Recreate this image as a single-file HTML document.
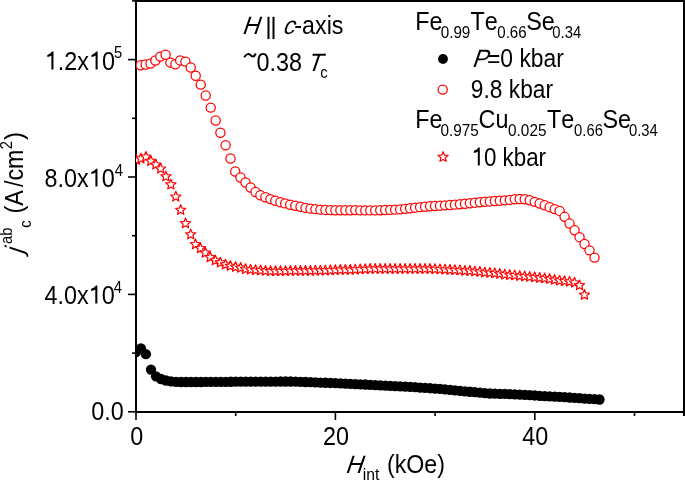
<!DOCTYPE html>
<html><head><meta charset="utf-8"><style>
html,body{margin:0;padding:0;background:#fff;width:685px;height:481px;overflow:hidden;}
svg{display:block;font-family:"Liberation Sans", sans-serif;}
text{font-kerning:none;font-feature-settings:"kern" 0;}
</style></head><body>
<svg width="685" height="481" viewBox="0 0 685 481">
<rect width="685" height="481" fill="#fff"/>
<g><rect x="135" y="0" width="2" height="413" fill="#000"/><rect x="135" y="411" width="550" height="2" fill="#000"/><rect x="135" y="0" width="550" height="2" fill="#000"/><rect x="683" y="0" width="2" height="413" fill="#000"/><line x1="128" y1="411.80" x2="136" y2="411.80" stroke="#000" stroke-width="1.6"/><line x1="128" y1="294.40" x2="136" y2="294.40" stroke="#000" stroke-width="1.6"/><line x1="128" y1="177.00" x2="136" y2="177.00" stroke="#000" stroke-width="1.6"/><line x1="128" y1="59.60" x2="136" y2="59.60" stroke="#000" stroke-width="1.6"/><line x1="132" y1="353.10" x2="136" y2="353.10" stroke="#000" stroke-width="1.6"/><line x1="132" y1="235.70" x2="136" y2="235.70" stroke="#000" stroke-width="1.6"/><line x1="132" y1="118.30" x2="136" y2="118.30" stroke="#000" stroke-width="1.6"/><line x1="132" y1="0.90" x2="136" y2="0.90" stroke="#000" stroke-width="1.6"/><line x1="136.00" y1="412" x2="136.00" y2="420" stroke="#000" stroke-width="1.6"/><line x1="335.40" y1="412" x2="335.40" y2="420" stroke="#000" stroke-width="1.6"/><line x1="534.80" y1="412" x2="534.80" y2="420" stroke="#000" stroke-width="1.6"/><line x1="235.70" y1="412" x2="235.70" y2="416" stroke="#000" stroke-width="1.6"/><line x1="435.10" y1="412" x2="435.10" y2="416" stroke="#000" stroke-width="1.6"/><line x1="634.50" y1="412" x2="634.50" y2="416" stroke="#000" stroke-width="1.6"/><rect x="683" y="411" width="2" height="5" fill="#000"/></g>
<clipPath id="cp"><rect x="136" y="1" width="547" height="411"/></clipPath>
<g clip-path="url(#cp)"><g fill="#000"><circle cx="136.00" cy="352.00" r="5.15"/><circle cx="140.90" cy="348.30" r="5.15"/><circle cx="145.90" cy="354.20" r="5.15"/><circle cx="151.00" cy="369.60" r="5.15"/><circle cx="156.00" cy="376.30" r="5.15"/><circle cx="161.00" cy="379.00" r="5.15"/><circle cx="166.00" cy="380.50" r="5.15"/><circle cx="171.00" cy="381.40" r="5.15"/><circle cx="176.00" cy="381.80" r="5.15"/><circle cx="181.00" cy="382.00" r="5.15"/><circle cx="185.98" cy="382.00" r="5.15"/><circle cx="190.96" cy="382.00" r="5.15"/><circle cx="195.95" cy="382.00" r="5.15"/><circle cx="200.93" cy="381.99" r="5.15"/><circle cx="205.91" cy="381.95" r="5.15"/><circle cx="210.89" cy="381.91" r="5.15"/><circle cx="215.88" cy="381.87" r="5.15"/><circle cx="220.86" cy="381.83" r="5.15"/><circle cx="225.84" cy="381.79" r="5.15"/><circle cx="230.82" cy="381.75" r="5.15"/><circle cx="235.80" cy="381.71" r="5.15"/><circle cx="240.79" cy="381.67" r="5.15"/><circle cx="245.77" cy="381.63" r="5.15"/><circle cx="250.75" cy="381.60" r="5.15"/><circle cx="255.73" cy="381.59" r="5.15"/><circle cx="260.71" cy="381.57" r="5.15"/><circle cx="265.70" cy="381.56" r="5.15"/><circle cx="270.68" cy="381.55" r="5.15"/><circle cx="275.66" cy="381.54" r="5.15"/><circle cx="280.64" cy="381.52" r="5.15"/><circle cx="285.62" cy="381.51" r="5.15"/><circle cx="290.61" cy="381.52" r="5.15"/><circle cx="295.59" cy="381.68" r="5.15"/><circle cx="300.57" cy="381.84" r="5.15"/><circle cx="305.55" cy="382.00" r="5.15"/><circle cx="310.54" cy="382.16" r="5.15"/><circle cx="315.52" cy="382.32" r="5.15"/><circle cx="320.50" cy="382.54" r="5.15"/><circle cx="325.48" cy="382.76" r="5.15"/><circle cx="330.46" cy="382.98" r="5.15"/><circle cx="335.45" cy="383.20" r="5.15"/><circle cx="340.43" cy="383.42" r="5.15"/><circle cx="345.41" cy="383.64" r="5.15"/><circle cx="350.39" cy="383.86" r="5.15"/><circle cx="355.38" cy="384.08" r="5.15"/><circle cx="360.36" cy="384.30" r="5.15"/><circle cx="365.34" cy="384.52" r="5.15"/><circle cx="370.32" cy="384.78" r="5.15"/><circle cx="375.30" cy="385.04" r="5.15"/><circle cx="380.29" cy="385.29" r="5.15"/><circle cx="385.27" cy="385.55" r="5.15"/><circle cx="390.25" cy="385.81" r="5.15"/><circle cx="395.23" cy="386.09" r="5.15"/><circle cx="400.21" cy="386.37" r="5.15"/><circle cx="405.20" cy="386.65" r="5.15"/><circle cx="410.18" cy="386.93" r="5.15"/><circle cx="415.16" cy="387.21" r="5.15"/><circle cx="420.14" cy="387.55" r="5.15"/><circle cx="425.12" cy="387.89" r="5.15"/><circle cx="430.11" cy="388.23" r="5.15"/><circle cx="435.09" cy="388.57" r="5.15"/><circle cx="440.07" cy="388.91" r="5.15"/><circle cx="445.05" cy="389.39" r="5.15"/><circle cx="450.04" cy="389.86" r="5.15"/><circle cx="455.02" cy="390.34" r="5.15"/><circle cx="460.00" cy="390.82" r="5.15"/><circle cx="464.98" cy="391.30" r="5.15"/><circle cx="469.96" cy="391.74" r="5.15"/><circle cx="474.95" cy="392.18" r="5.15"/><circle cx="479.93" cy="392.61" r="5.15"/><circle cx="484.91" cy="393.05" r="5.15"/><circle cx="489.89" cy="393.49" r="5.15"/><circle cx="494.88" cy="393.66" r="5.15"/><circle cx="499.86" cy="393.82" r="5.15"/><circle cx="504.84" cy="393.97" r="5.15"/><circle cx="509.82" cy="394.13" r="5.15"/><circle cx="514.80" cy="394.29" r="5.15"/><circle cx="519.79" cy="394.59" r="5.15"/><circle cx="524.77" cy="394.89" r="5.15"/><circle cx="529.75" cy="395.19" r="5.15"/><circle cx="534.73" cy="395.48" r="5.15"/><circle cx="539.71" cy="395.78" r="5.15"/><circle cx="544.70" cy="396.06" r="5.15"/><circle cx="549.68" cy="396.34" r="5.15"/><circle cx="554.66" cy="396.62" r="5.15"/><circle cx="559.64" cy="396.90" r="5.15"/><circle cx="564.62" cy="397.18" r="5.15"/><circle cx="569.61" cy="397.51" r="5.15"/><circle cx="574.59" cy="397.85" r="5.15"/><circle cx="579.57" cy="398.19" r="5.15"/><circle cx="584.55" cy="398.53" r="5.15"/><circle cx="589.54" cy="398.87" r="5.15"/><circle cx="594.52" cy="399.19" r="5.15"/><circle cx="599.50" cy="399.50" r="5.15"/></g><g fill="#fff" stroke="#f00" stroke-width="1.25"><circle cx="140.60" cy="65.30" r="4.6"/><circle cx="145.60" cy="64.50" r="4.6"/><circle cx="150.50" cy="63.50" r="4.6"/><circle cx="155.40" cy="60.50" r="4.6"/><circle cx="160.30" cy="56.60" r="4.6"/><circle cx="165.60" cy="54.70" r="4.6"/><circle cx="170.40" cy="62.60" r="4.6"/><circle cx="175.40" cy="64.20" r="4.6"/><circle cx="180.20" cy="60.40" r="4.6"/><circle cx="185.40" cy="61.60" r="4.6"/><circle cx="190.70" cy="67.50" r="4.6"/><circle cx="195.70" cy="75.80" r="4.6"/><circle cx="200.70" cy="84.60" r="4.6"/><circle cx="205.70" cy="95.50" r="4.6"/><circle cx="210.70" cy="107.60" r="4.6"/><circle cx="215.60" cy="120.50" r="4.6"/><circle cx="220.40" cy="132.80" r="4.6"/><circle cx="225.60" cy="145.30" r="4.6"/><circle cx="230.50" cy="158.50" r="4.6"/><circle cx="235.20" cy="171.50" r="4.6"/><circle cx="240.50" cy="177.50" r="4.6"/><circle cx="245.50" cy="182.50" r="4.6"/><circle cx="250.60" cy="187.50" r="4.6"/><circle cx="255.50" cy="192.00" r="4.6"/><circle cx="260.40" cy="195.20" r="4.6"/><circle cx="265.40" cy="197.20" r="4.6"/><circle cx="270.40" cy="199.10" r="4.6"/><circle cx="275.30" cy="200.70" r="4.6"/><circle cx="280.40" cy="202.20" r="4.6"/><circle cx="285.20" cy="203.40" r="4.6"/><circle cx="290.20" cy="204.70" r="4.6"/><circle cx="295.30" cy="205.70" r="4.6"/><circle cx="300.50" cy="206.80" r="4.6"/><circle cx="305.48" cy="207.88" r="4.6"/><circle cx="310.47" cy="208.65" r="4.6"/><circle cx="315.45" cy="209.14" r="4.6"/><circle cx="320.43" cy="209.63" r="4.6"/><circle cx="325.42" cy="209.92" r="4.6"/><circle cx="330.40" cy="210.12" r="4.6"/><circle cx="335.38" cy="210.30" r="4.6"/><circle cx="340.36" cy="210.30" r="4.6"/><circle cx="345.35" cy="210.30" r="4.6"/><circle cx="350.33" cy="210.29" r="4.6"/><circle cx="355.31" cy="210.12" r="4.6"/><circle cx="360.30" cy="210.40" r="4.6"/><circle cx="365.28" cy="210.40" r="4.6"/><circle cx="370.26" cy="210.40" r="4.6"/><circle cx="375.25" cy="210.39" r="4.6"/><circle cx="380.23" cy="210.19" r="4.6"/><circle cx="385.21" cy="210.04" r="4.6"/><circle cx="390.19" cy="209.89" r="4.6"/><circle cx="395.18" cy="209.64" r="4.6"/><circle cx="400.16" cy="209.38" r="4.6"/><circle cx="405.14" cy="208.85" r="4.6"/><circle cx="410.13" cy="208.25" r="4.6"/><circle cx="415.11" cy="207.67" r="4.6"/><circle cx="420.09" cy="207.14" r="4.6"/><circle cx="425.08" cy="206.71" r="4.6"/><circle cx="430.06" cy="206.28" r="4.6"/><circle cx="435.04" cy="205.97" r="4.6"/><circle cx="440.03" cy="205.68" r="4.6"/><circle cx="445.01" cy="205.37" r="4.6"/><circle cx="449.99" cy="205.03" r="4.6"/><circle cx="454.97" cy="204.65" r="4.6"/><circle cx="459.96" cy="204.22" r="4.6"/><circle cx="464.94" cy="203.74" r="4.6"/><circle cx="469.92" cy="203.20" r="4.6"/><circle cx="474.91" cy="202.66" r="4.6"/><circle cx="479.89" cy="202.22" r="4.6"/><circle cx="484.87" cy="201.80" r="4.6"/><circle cx="489.86" cy="201.41" r="4.6"/><circle cx="494.84" cy="201.03" r="4.6"/><circle cx="499.82" cy="200.68" r="4.6"/><circle cx="504.81" cy="200.35" r="4.6"/><circle cx="509.79" cy="199.88" r="4.6"/><circle cx="514.77" cy="199.34" r="4.6"/><circle cx="519.75" cy="199.00" r="4.6"/><circle cx="524.74" cy="199.21" r="4.6"/><circle cx="529.72" cy="200.21" r="4.6"/><circle cx="534.70" cy="201.87" r="4.6"/><circle cx="539.69" cy="203.53" r="4.6"/><circle cx="544.67" cy="205.26" r="4.6"/><circle cx="549.65" cy="207.18" r="4.6"/><circle cx="554.64" cy="209.12" r="4.6"/><circle cx="559.62" cy="210.93" r="4.6"/><circle cx="564.60" cy="216.84" r="4.6"/><circle cx="569.58" cy="223.58" r="4.6"/><circle cx="574.57" cy="230.19" r="4.6"/><circle cx="579.55" cy="237.17" r="4.6"/><circle cx="584.53" cy="244.02" r="4.6"/><circle cx="589.52" cy="250.37" r="4.6"/><circle cx="594.50" cy="257.60" r="4.6"/></g><g fill="#fff" stroke="#f00" stroke-width="1.2" stroke-linejoin="round"><path d="M136.50,154.65 L137.92,158.05 L141.59,158.35 L138.79,160.74 L139.64,164.33 L136.50,162.41 L133.36,164.33 L134.21,160.74 L131.41,158.35 L135.08,158.05Z"/><path d="M140.90,153.25 L142.32,156.65 L145.99,156.95 L143.19,159.34 L144.04,162.93 L140.90,161.01 L137.76,162.93 L138.61,159.34 L135.81,156.95 L139.48,156.65Z"/><path d="M145.90,151.55 L147.32,154.95 L150.99,155.25 L148.19,157.64 L149.04,161.23 L145.90,159.31 L142.76,161.23 L143.61,157.64 L140.81,155.25 L144.48,154.95Z"/><path d="M150.80,155.65 L152.22,159.05 L155.89,159.35 L153.09,161.74 L153.94,165.33 L150.80,163.41 L147.66,165.33 L148.51,161.74 L145.71,159.35 L149.38,159.05Z"/><path d="M155.80,159.35 L157.22,162.75 L160.89,163.05 L158.09,165.44 L158.94,169.03 L155.80,167.11 L152.66,169.03 L153.51,165.44 L150.71,163.05 L154.38,162.75Z"/><path d="M160.60,163.35 L162.02,166.75 L165.69,167.05 L162.89,169.44 L163.74,173.03 L160.60,171.11 L157.46,173.03 L158.31,169.44 L155.51,167.05 L159.18,166.75Z"/><path d="M165.90,171.15 L167.32,174.55 L170.99,174.85 L168.19,177.24 L169.04,180.83 L165.90,178.91 L162.76,180.83 L163.61,177.24 L160.81,174.85 L164.48,174.55Z"/><path d="M170.90,179.25 L172.32,182.65 L175.99,182.95 L173.19,185.34 L174.04,188.93 L170.90,187.01 L167.76,188.93 L168.61,185.34 L165.81,182.95 L169.48,182.65Z"/><path d="M175.80,191.35 L177.22,194.75 L180.89,195.05 L178.09,197.44 L178.94,201.03 L175.80,199.11 L172.66,201.03 L173.51,197.44 L170.71,195.05 L174.38,194.75Z"/><path d="M180.70,204.65 L182.12,208.05 L185.79,208.35 L182.99,210.74 L183.84,214.33 L180.70,212.41 L177.56,214.33 L178.41,210.74 L175.61,208.35 L179.28,208.05Z"/><path d="M185.50,218.05 L186.92,221.45 L190.59,221.75 L187.79,224.14 L188.64,227.73 L185.50,225.81 L182.36,227.73 L183.21,224.14 L180.41,221.75 L184.08,221.45Z"/><path d="M190.70,229.15 L192.12,232.55 L195.79,232.85 L192.99,235.24 L193.84,238.83 L190.70,236.91 L187.56,238.83 L188.41,235.24 L185.61,232.85 L189.28,232.55Z"/><path d="M195.50,239.05 L196.92,242.45 L200.59,242.75 L197.79,245.14 L198.64,248.73 L195.50,246.81 L192.36,248.73 L193.21,245.14 L190.41,242.75 L194.08,242.45Z"/><path d="M200.40,242.95 L201.82,246.35 L205.49,246.65 L202.69,249.04 L203.54,252.63 L200.40,250.71 L197.26,252.63 L198.11,249.04 L195.31,246.65 L198.98,246.35Z"/><path d="M205.30,247.45 L206.72,250.85 L210.39,251.15 L207.59,253.54 L208.44,257.13 L205.30,255.21 L202.16,257.13 L203.01,253.54 L200.21,251.15 L203.88,250.85Z"/><path d="M210.20,251.95 L211.62,255.35 L215.29,255.65 L212.49,258.04 L213.34,261.63 L210.20,259.71 L207.06,261.63 L207.91,258.04 L205.11,255.65 L208.78,255.35Z"/><path d="M215.30,255.15 L216.72,258.55 L220.39,258.85 L217.59,261.24 L218.44,264.83 L215.30,262.91 L212.16,264.83 L213.01,261.24 L210.21,258.85 L213.88,258.55Z"/><path d="M220.40,257.25 L221.82,260.65 L225.49,260.95 L222.69,263.34 L223.54,266.93 L220.40,265.01 L217.26,266.93 L218.11,263.34 L215.31,260.95 L218.98,260.65Z"/><path d="M225.50,259.25 L226.92,262.65 L230.59,262.95 L227.79,265.34 L228.64,268.93 L225.50,267.01 L222.36,268.93 L223.21,265.34 L220.41,262.95 L224.08,262.65Z"/><path d="M230.40,260.65 L231.82,264.05 L235.49,264.35 L232.69,266.74 L233.54,270.33 L230.40,268.41 L227.26,270.33 L228.11,266.74 L225.31,264.35 L228.98,264.05Z"/><path d="M235.60,261.65 L237.02,265.05 L240.69,265.35 L237.89,267.74 L238.74,271.33 L235.60,269.41 L232.46,271.33 L233.31,267.74 L230.51,265.35 L234.18,265.05Z"/><path d="M240.60,262.55 L242.02,265.95 L245.69,266.25 L242.89,268.64 L243.74,272.23 L240.60,270.31 L237.46,272.23 L238.31,268.64 L235.51,266.25 L239.18,265.95Z"/><path d="M245.60,263.75 L247.02,267.15 L250.69,267.45 L247.89,269.84 L248.74,273.43 L245.60,271.51 L242.46,273.43 L243.31,269.84 L240.51,267.45 L244.18,267.15Z"/><path d="M250.58,264.36 L252.00,267.76 L255.67,268.05 L252.87,270.45 L253.73,274.03 L250.58,272.11 L247.44,274.03 L248.29,270.45 L245.50,268.05 L249.17,267.76Z"/><path d="M255.57,264.75 L256.98,268.16 L260.66,268.45 L257.86,270.85 L258.71,274.43 L255.57,272.51 L252.42,274.43 L253.28,270.85 L250.48,268.45 L254.15,268.16Z"/><path d="M260.55,265.06 L261.97,268.47 L265.64,268.76 L262.84,271.16 L263.70,274.74 L260.55,272.82 L257.41,274.74 L258.26,271.16 L255.46,268.76 L259.14,268.47Z"/><path d="M265.54,265.55 L266.95,268.95 L270.62,269.25 L267.82,271.65 L268.68,275.23 L265.54,273.31 L262.39,275.23 L263.25,271.65 L260.45,269.25 L264.12,268.95Z"/><path d="M270.52,265.75 L271.93,269.15 L275.61,269.45 L272.81,271.84 L273.66,275.43 L270.52,273.51 L267.37,275.43 L268.23,271.84 L265.43,269.45 L269.10,269.15Z"/><path d="M275.50,265.75 L276.92,269.15 L280.59,269.45 L277.79,271.84 L278.65,275.43 L275.50,273.51 L272.36,275.43 L273.21,271.84 L270.41,269.45 L274.09,269.15Z"/><path d="M280.49,265.75 L281.90,269.15 L285.57,269.45 L282.78,271.84 L283.63,275.43 L280.49,273.51 L277.34,275.43 L278.20,271.84 L275.40,269.45 L279.07,269.15Z"/><path d="M285.47,265.75 L286.89,269.15 L290.56,269.45 L287.76,271.84 L288.62,275.43 L285.47,273.51 L282.33,275.43 L283.18,271.84 L280.38,269.45 L284.06,269.15Z"/><path d="M290.45,265.55 L291.87,268.95 L295.54,269.25 L292.74,271.64 L293.60,275.23 L290.45,273.31 L287.31,275.23 L288.16,271.64 L285.37,269.25 L289.04,268.95Z"/><path d="M295.44,265.55 L296.85,268.95 L300.53,269.25 L297.73,271.64 L298.58,275.23 L295.44,273.31 L292.29,275.23 L293.15,271.64 L290.35,269.25 L294.02,268.95Z"/><path d="M300.42,265.55 L301.84,268.95 L305.51,269.25 L302.71,271.64 L303.57,275.23 L300.42,273.31 L297.28,275.23 L298.13,271.64 L295.33,269.25 L299.01,268.95Z"/><path d="M305.41,265.50 L306.82,268.90 L310.49,269.20 L307.70,271.59 L308.55,275.18 L305.41,273.26 L302.26,275.18 L303.12,271.59 L300.32,269.20 L303.99,268.90Z"/><path d="M310.39,265.45 L311.80,268.85 L315.48,269.14 L312.68,271.54 L313.53,275.13 L310.39,273.21 L307.25,275.13 L308.10,271.54 L305.30,269.14 L308.97,268.85Z"/><path d="M315.37,265.35 L316.79,268.75 L320.46,269.05 L317.66,271.44 L318.52,275.03 L315.37,273.11 L312.23,275.03 L313.08,271.44 L310.29,269.05 L313.96,268.75Z"/><path d="M320.36,265.25 L321.77,268.65 L325.45,268.95 L322.65,271.34 L323.50,274.93 L320.36,273.01 L317.21,274.93 L318.07,271.34 L315.27,268.95 L318.94,268.65Z"/><path d="M325.34,265.25 L326.76,268.65 L330.43,268.95 L327.63,271.34 L328.49,274.93 L325.34,273.01 L322.20,274.93 L323.05,271.34 L320.25,268.95 L323.93,268.65Z"/><path d="M330.32,264.95 L331.74,268.35 L335.41,268.65 L332.61,271.04 L333.47,274.63 L330.32,272.71 L327.18,274.63 L328.04,271.04 L325.24,268.65 L328.91,268.35Z"/><path d="M335.31,264.75 L336.72,268.15 L340.40,268.45 L337.60,270.84 L338.45,274.43 L335.31,272.51 L332.16,274.43 L333.02,270.84 L330.22,268.45 L333.89,268.15Z"/><path d="M340.29,264.55 L341.71,267.96 L345.38,268.25 L342.58,270.65 L343.44,274.23 L340.29,272.31 L337.15,274.23 L338.00,270.65 L335.20,268.25 L338.88,267.96Z"/><path d="M345.28,264.55 L346.69,267.95 L350.36,268.25 L347.57,270.64 L348.42,274.23 L345.28,272.31 L342.13,274.23 L342.99,270.64 L340.19,268.25 L343.86,267.95Z"/><path d="M350.26,264.55 L351.68,267.95 L355.35,268.25 L352.55,270.64 L353.40,274.23 L350.26,272.31 L347.12,274.23 L347.97,270.64 L345.17,268.25 L348.85,267.95Z"/><path d="M355.24,264.24 L356.66,267.64 L360.33,267.94 L357.53,270.33 L358.39,273.92 L355.24,272.00 L352.10,273.92 L352.95,270.33 L350.16,267.94 L353.83,267.64Z"/><path d="M360.23,264.05 L361.64,267.45 L365.32,267.75 L362.52,270.14 L363.37,273.73 L360.23,271.81 L357.08,273.73 L357.94,270.14 L355.14,267.75 L358.81,267.45Z"/><path d="M365.21,263.76 L366.63,267.16 L370.30,267.45 L367.50,269.85 L368.36,273.43 L365.21,271.51 L362.07,273.43 L362.92,269.85 L360.12,267.45 L363.80,267.16Z"/><path d="M370.20,263.55 L371.61,266.95 L375.28,267.25 L372.49,269.64 L373.34,273.23 L370.20,271.31 L367.05,273.23 L367.91,269.64 L365.11,267.25 L368.78,266.95Z"/><path d="M375.18,263.55 L376.59,266.95 L380.27,267.25 L377.47,269.64 L378.32,273.23 L375.18,271.31 L372.03,273.23 L372.89,269.64 L370.09,267.25 L373.76,266.95Z"/><path d="M380.16,263.55 L381.58,266.95 L385.25,267.25 L382.45,269.64 L383.31,273.23 L380.16,271.31 L377.02,273.23 L377.87,269.64 L375.08,267.25 L378.75,266.95Z"/><path d="M385.15,263.55 L386.56,266.95 L390.24,267.25 L387.44,269.64 L388.29,273.23 L385.15,271.31 L382.00,273.23 L382.86,269.64 L380.06,267.25 L383.73,266.95Z"/><path d="M390.13,263.55 L391.55,266.95 L395.22,267.25 L392.42,269.64 L393.28,273.23 L390.13,271.31 L386.99,273.23 L387.84,269.64 L385.04,267.25 L388.72,266.95Z"/><path d="M395.11,263.55 L396.53,266.95 L400.20,267.25 L397.40,269.64 L398.26,273.23 L395.11,271.31 L391.97,273.23 L392.83,269.64 L390.03,267.25 L393.70,266.95Z"/><path d="M400.10,263.55 L401.51,266.95 L405.19,267.25 L402.39,269.64 L403.24,273.23 L400.10,271.31 L396.95,273.23 L397.81,269.64 L395.01,267.25 L398.68,266.95Z"/><path d="M405.08,263.55 L406.50,266.95 L410.17,267.25 L407.37,269.64 L408.23,273.23 L405.08,271.31 L401.94,273.23 L402.79,269.64 L399.99,267.25 L403.67,266.95Z"/><path d="M410.07,263.55 L411.48,266.95 L415.15,267.25 L412.36,269.64 L413.21,273.23 L410.07,271.31 L406.92,273.23 L407.78,269.64 L404.98,267.25 L408.65,266.95Z"/><path d="M415.05,263.55 L416.47,266.95 L420.14,267.25 L417.34,269.64 L418.19,273.23 L415.05,271.31 L411.91,273.23 L412.76,269.64 L409.96,267.25 L413.63,266.95Z"/><path d="M420.03,263.55 L421.45,266.95 L425.12,267.25 L422.32,269.64 L423.18,273.23 L420.03,271.31 L416.89,273.23 L417.74,269.64 L414.95,267.25 L418.62,266.95Z"/><path d="M425.02,263.55 L426.43,266.95 L430.11,267.25 L427.31,269.64 L428.16,273.23 L425.02,271.31 L421.87,273.23 L422.73,269.64 L419.93,267.25 L423.60,266.95Z"/><path d="M430.00,263.55 L431.42,266.95 L435.09,267.25 L432.29,269.64 L433.15,273.23 L430.00,271.31 L426.86,273.23 L427.71,269.64 L424.91,267.25 L428.59,266.95Z"/><path d="M434.99,263.73 L436.40,267.13 L440.07,267.43 L437.27,269.83 L438.13,273.41 L434.99,271.49 L431.84,273.41 L432.70,269.83 L429.90,267.43 L433.57,267.13Z"/><path d="M439.97,264.04 L441.38,267.44 L445.06,267.74 L442.26,270.14 L443.11,273.72 L439.97,271.80 L436.82,273.72 L437.68,270.14 L434.88,267.74 L438.55,267.44Z"/><path d="M444.95,264.35 L446.37,267.75 L450.04,268.04 L447.24,270.44 L448.10,274.03 L444.95,272.10 L441.81,274.03 L442.66,270.44 L439.86,268.04 L443.54,267.75Z"/><path d="M449.94,264.55 L451.35,267.95 L455.02,268.24 L452.23,270.64 L453.08,274.23 L449.94,272.30 L446.79,274.23 L447.65,270.64 L444.85,268.24 L448.52,267.95Z"/><path d="M454.92,264.75 L456.34,268.15 L460.01,268.45 L457.21,270.85 L458.07,274.43 L454.92,272.51 L451.78,274.43 L452.63,270.85 L449.83,268.45 L453.51,268.15Z"/><path d="M459.90,265.06 L461.32,268.46 L464.99,268.76 L462.19,271.15 L463.05,274.74 L459.90,272.82 L456.76,274.74 L457.61,271.15 L454.82,268.76 L458.49,268.46Z"/><path d="M464.89,265.46 L466.30,268.86 L469.98,269.15 L467.18,271.55 L468.03,275.13 L464.89,273.21 L461.74,275.13 L462.60,271.55 L459.80,269.15 L463.47,268.86Z"/><path d="M469.87,265.57 L471.29,268.97 L474.96,269.27 L472.16,271.67 L473.02,275.25 L469.87,273.33 L466.73,275.25 L467.58,271.67 L464.78,269.27 L468.46,268.97Z"/><path d="M474.86,266.17 L476.27,269.57 L479.94,269.86 L477.15,272.26 L478.00,275.84 L474.86,273.92 L471.71,275.84 L472.57,272.26 L469.77,269.86 L473.44,269.57Z"/><path d="M479.84,266.48 L481.25,269.89 L484.93,270.18 L482.13,272.58 L482.98,276.16 L479.84,274.24 L476.70,276.16 L477.55,272.58 L474.75,270.18 L478.42,269.89Z"/><path d="M484.82,267.17 L486.24,270.57 L489.91,270.87 L487.11,273.26 L487.97,276.85 L484.82,274.93 L481.68,276.85 L482.53,273.26 L479.74,270.87 L483.41,270.57Z"/><path d="M489.81,267.47 L491.22,270.87 L494.90,271.17 L492.10,273.56 L492.95,277.15 L489.81,275.23 L486.66,277.15 L487.52,273.56 L484.72,271.17 L488.39,270.87Z"/><path d="M494.79,267.97 L496.21,271.37 L499.88,271.67 L497.08,274.06 L497.94,277.65 L494.79,275.73 L491.65,277.65 L492.50,274.06 L489.70,271.67 L493.38,271.37Z"/><path d="M499.77,268.48 L501.19,271.88 L504.86,272.17 L502.06,274.57 L502.92,278.16 L499.77,276.23 L496.63,278.16 L497.49,274.57 L494.69,272.17 L498.36,271.88Z"/><path d="M504.76,269.24 L506.17,272.65 L509.85,272.94 L507.05,275.34 L507.90,278.92 L504.76,277.00 L501.61,278.92 L502.47,275.34 L499.67,272.94 L503.34,272.65Z"/><path d="M509.74,269.65 L511.16,273.06 L514.83,273.35 L512.03,275.75 L512.89,279.33 L509.74,277.41 L506.60,279.33 L507.45,275.75 L504.65,273.35 L508.33,273.06Z"/><path d="M514.73,270.05 L516.14,273.46 L519.81,273.75 L517.02,276.15 L517.87,279.73 L514.73,277.81 L511.58,279.73 L512.44,276.15 L509.64,273.75 L513.31,273.46Z"/><path d="M519.71,270.65 L521.13,274.05 L524.80,274.35 L522.00,276.74 L522.85,280.33 L519.71,278.41 L516.57,280.33 L517.42,276.74 L514.62,274.35 L518.30,274.05Z"/><path d="M524.69,271.04 L526.11,274.44 L529.78,274.74 L526.98,277.14 L527.84,280.72 L524.69,278.80 L521.55,280.72 L522.40,277.14 L519.61,274.74 L523.28,274.44Z"/><path d="M529.68,271.56 L531.09,274.96 L534.77,275.25 L531.97,277.65 L532.82,281.24 L529.68,279.32 L526.53,281.24 L527.39,277.65 L524.59,275.25 L528.26,274.96Z"/><path d="M534.66,272.06 L536.08,275.46 L539.75,275.75 L536.95,278.15 L537.81,281.73 L534.66,279.81 L531.52,281.73 L532.37,278.15 L529.57,275.75 L533.25,275.46Z"/><path d="M539.65,272.47 L541.06,275.87 L544.73,276.16 L541.94,278.56 L542.79,282.15 L539.65,280.22 L536.50,282.15 L537.36,278.56 L534.56,276.16 L538.23,275.87Z"/><path d="M544.63,273.07 L546.04,276.47 L549.72,276.76 L546.92,279.16 L547.77,282.74 L544.63,280.82 L541.48,282.74 L542.34,279.16 L539.54,276.76 L543.21,276.47Z"/><path d="M549.61,273.67 L551.03,277.07 L554.70,277.37 L551.90,279.76 L552.76,283.35 L549.61,281.43 L546.47,283.35 L547.32,279.76 L544.53,277.37 L548.20,277.07Z"/><path d="M554.60,274.55 L556.01,277.95 L559.69,278.25 L556.89,280.64 L557.74,284.23 L554.60,282.31 L551.45,284.23 L552.31,280.64 L549.51,278.25 L553.18,277.95Z"/><path d="M559.58,275.25 L561.00,278.65 L564.67,278.94 L561.87,281.34 L562.73,284.93 L559.58,283.00 L556.44,284.93 L557.29,281.34 L554.49,278.94 L558.17,278.65Z"/><path d="M564.56,275.85 L565.98,279.25 L569.65,279.54 L566.85,281.94 L567.71,285.52 L564.56,283.60 L561.42,285.52 L562.28,281.94 L559.48,279.54 L563.15,279.25Z"/><path d="M569.55,276.36 L570.96,279.76 L574.64,280.06 L571.84,282.45 L572.69,286.04 L569.55,284.12 L566.40,286.04 L567.26,282.45 L564.46,280.06 L568.13,279.76Z"/><path d="M574.53,277.36 L575.95,280.76 L579.62,281.05 L576.82,283.45 L577.68,287.04 L574.53,285.11 L571.39,287.04 L572.24,283.45 L569.44,281.05 L573.12,280.76Z"/><path d="M579.52,279.97 L580.93,283.37 L584.60,283.66 L581.81,286.06 L582.66,289.64 L579.52,287.72 L576.37,289.64 L577.23,286.06 L574.43,283.66 L578.10,283.37Z"/><path d="M584.50,289.55 L585.92,292.95 L589.59,293.25 L586.79,295.64 L587.64,299.23 L584.50,297.31 L581.36,299.23 L582.21,295.64 L579.41,293.25 L583.08,292.95Z"/></g></g>
<g font-family="Liberation Sans, sans-serif" fill="#000" style="filter:grayscale(1)"><g transform="translate(44.75,69.55) scale(0.935,1)" font-size="25"><path transform="translate(0.000,0) scale(0.012207,-0.012207)" d="M763,0L583,0L583,1147Q440,1060 223,1030L223,1200Q520,1290 646,1472L763,1472Z"/><text x="13.904">.2x</text><path transform="translate(47.253,0) scale(0.012207,-0.012207)" d="M763,0L583,0L583,1147Q440,1060 223,1030L223,1200Q520,1290 646,1472L763,1472Z"/><text x="61.157">0</text></g><text transform="translate(113.91,58.20) scale(0.925,1)" font-size="16">5</text><g transform="translate(44.58,186.60) scale(0.935,1)" font-size="25"><text x="0.000">8.0x</text><path transform="translate(47.253,0) scale(0.012207,-0.012207)" d="M763,0L583,0L583,1147Q440,1060 223,1030L223,1200Q520,1290 646,1472L763,1472Z"/><text x="61.157">0</text></g><text transform="translate(114.66,175.60) scale(0.925,1)" font-size="16">4</text><g transform="translate(44.46,303.50) scale(0.935,1)" font-size="25"><text x="0.000">4.0x</text><path transform="translate(47.253,0) scale(0.012207,-0.012207)" d="M763,0L583,0L583,1147Q440,1060 223,1030L223,1200Q520,1290 646,1472L763,1472Z"/><text x="61.157">0</text></g><text transform="translate(113.86,292.90) scale(0.925,1)" font-size="16">4</text><text transform="translate(91.29,419.90) scale(0.935,1)" font-size="25">0.0</text><text transform="translate(130.20,444.60) scale(0.935,1)" font-size="25">0</text><text transform="translate(322.90,444.60) scale(0.935,1)" font-size="25">20</text><text transform="translate(522.20,444.60) scale(0.935,1)" font-size="25">40</text><text transform="translate(415.18,29.60) scale(0.935,1)" font-size="25">Fe</text><text transform="translate(440.71,37.60) scale(0.9510107639800465,1)" font-size="16">0.99</text><text transform="translate(470.57,29.60) scale(0.935,1)" font-size="25">Te</text><text transform="translate(497.31,37.60) scale(0.9425576519916158,1)" font-size="16">0.66</text><text transform="translate(526.14,29.60) scale(0.935,1)" font-size="25">Se</text><text transform="translate(552.32,37.60) scale(0.925,1)" font-size="16">0.34</text><text transform="translate(471.38,66.80) skewX(-19) scale(0.935,1)" font-size="25">P</text><text transform="translate(486.98,66.80) scale(0.915,1)" font-size="25">=0 kbar</text><text transform="translate(470.83,97.50) scale(0.91,1)" font-size="25">9.8 kbar</text><text transform="translate(415.28,128.20) scale(0.935,1)" font-size="25">Fe</text><text transform="translate(440.50,135.60) scale(0.9576124218592454,1)" font-size="16">0.975</text><text transform="translate(478.61,128.20) scale(0.935,1)" font-size="25">Cu</text><text transform="translate(508.10,135.60) scale(0.9576124218592454,1)" font-size="16">0.025</text><text transform="translate(547.07,128.20) scale(0.935,1)" font-size="25">Te</text><text transform="translate(574.12,135.60) scale(0.925,1)" font-size="16">0.66</text><text transform="translate(602.44,128.20) scale(0.935,1)" font-size="25">Se</text><text transform="translate(629.02,135.60) scale(0.925,1)" font-size="16">0.34</text><g transform="translate(471.46,165.50) scale(0.895,1)" font-size="25"><path transform="translate(0.000,0) scale(0.012207,-0.012207)" d="M763,0L583,0L583,1147Q440,1060 223,1030L223,1200Q520,1290 646,1472L763,1472Z"/><text x="13.904">0 kbar</text></g><text transform="translate(241.38,34.00) skewX(-19) scale(0.935,1)" font-size="25">H</text><text transform="translate(281.88,34.00) skewX(-19) scale(0.935,1)" font-size="25">c</text><text transform="translate(294.37,34.00) scale(0.929700408752104,1)" font-size="25">-axis</text><text transform="translate(256.49,71.00) scale(0.935,1)" font-size="25">0.38</text><text transform="translate(306.61,71.00) skewX(-19) scale(0.935,1)" font-size="25">T</text><text transform="translate(320.37,78.20) scale(0.925,1)" font-size="16">c</text><text transform="translate(344.78,472.60) skewX(-19) scale(0.935,1)" font-size="25">H</text><text transform="translate(362.75,480.40) scale(0.9802088513177524,1)" font-size="16">int</text><text transform="translate(386.96,473.40) scale(0.9276185778873826,1)" font-size="25">(kOe)</text></g>
<circle cx="443.0" cy="59.0" r="4.9" fill="#000"/><circle cx="442.7" cy="89.6" r="4.6" fill="none" stroke="#f00" stroke-width="1.25"/><path d="M443.10,151.65 L444.52,155.05 L448.19,155.35 L445.39,157.74 L446.24,161.33 L443.10,159.41 L439.96,161.33 L440.81,157.74 L438.01,155.35 L441.68,155.05Z" fill="none" stroke="#f00" stroke-width="1.2" stroke-linejoin="round"/><rect x="267.5" y="16.8" width="2" height="22.3" fill="#000"/><rect x="272.5" y="16.8" width="2" height="22.3" fill="#000"/><path d="M244.2,57.3 C246.5,53.2 249.0,53.6 250.5,55.2 C252.0,56.8 254.0,57.6 255.8,53.5" fill="none" stroke="#000" stroke-width="1.9"/>
<g style="filter:grayscale(1)"><g font-family="Liberation Sans, sans-serif" fill="#000" transform="translate(23.1,260.0) rotate(-90)"><text transform="translate(5.37,0.30) skewX(-19) scale(0.94,1)" font-size="25.5">j</text><text transform="translate(16.07,-11.00) scale(0.925,1)" font-size="16">ab</text><text transform="translate(32.17,8.00) scale(0.925,1)" font-size="16">c</text><text transform="translate(46.45,0.00) scale(0.9175120439412071,1)" font-size="25.5">(A</text><text transform="translate(73.00,0.00) scale(0.9138097716962892,1)" font-size="25.5">/cm</text><text transform="translate(110.66,-11.20) scale(0.925,1)" font-size="16">2</text><text transform="translate(119.96,0.00) scale(0.94,1)" font-size="25.5">)</text></g></g>
</svg>
</body></html>
